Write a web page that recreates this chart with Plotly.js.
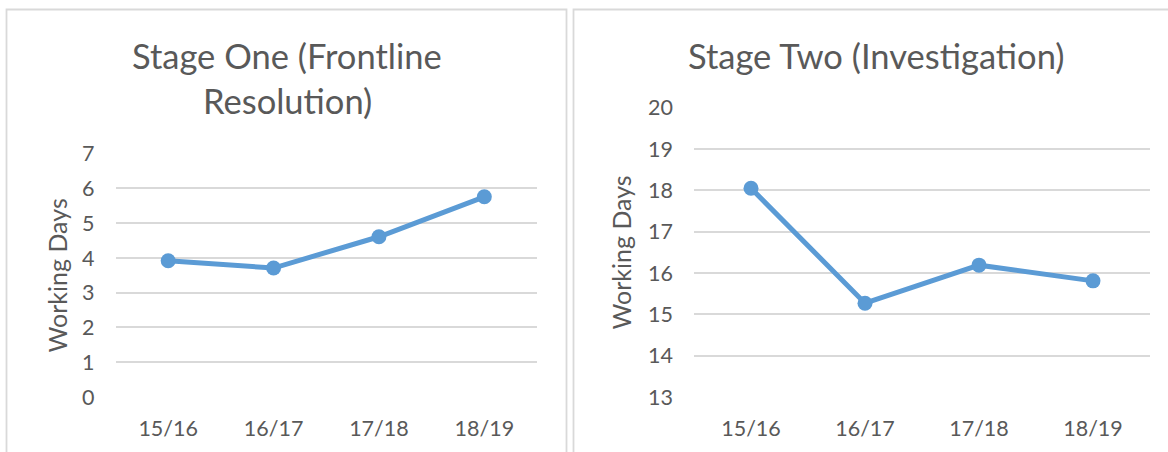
<!DOCTYPE html>
<html>
<head>
<meta charset="utf-8">
<script src="https://cdn.plot.ly/plotly-3.0.1.min.js"></script>
<style>html,body{margin:0;padding:0;background:#fff;}#chart{width:1168px;height:452px;}</style>
</head>
<body>
<div id="chart"></div>
<script>
const categories = ["15/16", "16/17", "17/18", "18/19"];
const stageOneDays = [3.92, 3.71, 4.61, 5.76];
const stageTwoDays = [18.05, 15.27, 16.19, 15.81];
const stageOneTitle = ["Stage One (Frontline", "Resolution)"];
const stageTwoTitle = "Stage Two (Investigation)";
const yAxisLabel = "Working Days";

const W = 1168, H = 452;
const px = v => v / W;
const py = v => 1 - v / H;
const FONT = "Lato, 'Open Sans', sans-serif";
const TXT = "#595959";
const BLUE = "#5B9BD5";
const GRID = "#D9D9D9";

const lineStyle = {color: BLUE, width: 5};
const markerStyle = {color: BLUE, size: 15};

const traces = [
  {x: categories, y: stageOneDays, type: "scatter", mode: "lines+markers",
   line: lineStyle, marker: markerStyle, xaxis: "x", yaxis: "y", cliponaxis: false, hoverinfo: "x+y"},
  {x: categories, y: stageTwoDays, type: "scatter", mode: "lines+markers",
   line: lineStyle, marker: markerStyle, xaxis: "x2", yaxis: "y2", cliponaxis: false, hoverinfo: "x+y"}
];

const xCommon = {
  type: "category", showgrid: false, zeroline: false, showline: false, ticks: "",
  tickfont: {family: FONT, size: 21.5, color: TXT}, ticklabelstandoff: 16, fixedrange: true
};
const yCommon = {
  showgrid: true, gridcolor: GRID, gridwidth: 1.5, zeroline: false, showline: false, ticks: "",
  dtick: 1, tickfont: {family: FONT, size: 21.5, color: TXT}, ticklabelstandoff: 20, fixedrange: true
};

const layout = {
  width: W, height: H,
  margin: {l: 0, r: 0, t: 0, b: 0},
  paper_bgcolor: "#fff", plot_bgcolor: "rgba(0,0,0,0)",
  showlegend: false,
  font: {family: FONT, color: TXT},
  xaxis: Object.assign({}, xCommon, {domain: [px(115.5), px(537)], anchor: "y", range: [-0.5, 3.5]}),
  yaxis: Object.assign({}, yCommon, {domain: [py(397), py(153.7)], anchor: "x", range: [0, 7],
    title: {text: yAxisLabel, font: {family: FONT, size: 25, color: TXT}, standoff: 7}}),
  xaxis2: Object.assign({}, xCommon, {domain: [px(694), px(1150)], anchor: "y2", range: [-0.5, 3.5]}),
  yaxis2: Object.assign({}, yCommon, {domain: [py(397), py(107.7)], anchor: "x2", range: [13, 20],
    title: {text: yAxisLabel, font: {family: FONT, size: 25, color: TXT}, standoff: 9}}),
  shapes: [
    {type: "rect", xref: "paper", yref: "paper", x0: px(6.5), x1: px(566.5), y0: -0.2, y1: py(9.5),
     line: {color: GRID, width: 1.8}, fillcolor: "rgba(0,0,0,0)", layer: "below"},
    {type: "rect", xref: "paper", yref: "paper", x0: px(573.5), x1: 1.2, y0: -0.2, y1: py(9.5),
     line: {color: GRID, width: 1.8}, fillcolor: "rgba(0,0,0,0)", layer: "below"}
  ],
  annotations: [
    {text: stageOneTitle[0], xref: "paper", yref: "paper", x: px(286.5), y: py(55), xanchor: "center", yanchor: "middle",
     showarrow: false, font: {family: FONT, size: 34.5, color: TXT}},
    {text: stageOneTitle[1], xref: "paper", yref: "paper", x: px(287), y: py(100), xanchor: "center", yanchor: "middle",
     showarrow: false, font: {family: FONT, size: 34.5, color: TXT}},
    {text: stageTwoTitle, xref: "paper", yref: "paper", x: px(876), y: py(55), xanchor: "center", yanchor: "middle",
     showarrow: false, font: {family: FONT, size: 34.5, color: TXT}}
  ]
};

Plotly.newPlot("chart", traces, layout, {displayModeBar: false});
</script>
</body>
</html>
